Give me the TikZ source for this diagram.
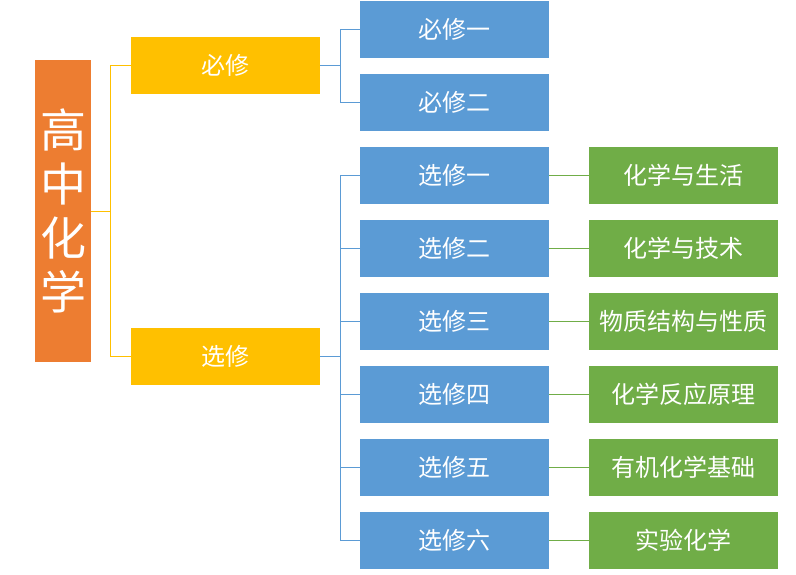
\documentclass[tikz,border=0pt]{standalone}
\usepackage{fontspec}
\setmainfont{Noto Sans CJK SC}
\usepackage{xcolor}
\usetikzlibrary{positioning}
\definecolor{rootc}{HTML}{ED7D31}
\definecolor{midc}{HTML}{FFC000}
\definecolor{subc}{HTML}{5B9BD5}
\definecolor{leafc}{HTML}{70AD47}

\begin{document}
\begin{tikzpicture}[
  x=1pt, y=-1pt,
  rootbox/.style={fill=rootc, text=white, align=center, inner sep=0pt, minimum width=56pt, minimum height=302pt, font=\fontsize{46}{54}\selectfont},
  midbox/.style={fill=midc, text=white, minimum width=189pt, minimum height=57pt, font=\fontsize{24}{28}\selectfont},
  subbox/.style={fill=subc, text=white, minimum width=189pt, minimum height=57pt, font=\fontsize{24}{28}\selectfont},
  leafbox/.style={fill=leafc, text=white, inner sep=0pt, minimum width=189pt, minimum height=57pt, font=\fontsize{24}{28}\selectfont},
  link/.style={draw=#1, line width=0.9pt}
]
  \useasboundingbox (0,0) rectangle (796,574);
  % root and second level
  \node[rootbox] (root) at (63,211) {高\\中\\化\\学};
  \node[midbox] (bx) at (225.5,65.5) {必修};
  \node[midbox] (xx) at (225.5,356.5) {选修};
  % third level
  \node[subbox] (bx1) at (454.5,29) {必修一};
  \node[subbox] (bx2) at (454.5,102) {必修二};
  \foreach \n/\t [count=\i from 0] in {1/选修一,2/选修二,3/选修三,4/选修四,5/选修五,6/选修六}
    \node[subbox] (xx\n) at (454.5,175+73*\i) {\t};
  % leaves
  \foreach \n/\t [count=\i from 0] in {1/化学与生活,2/化学与技术,3/物质结构与性质,4/化学反应原理,5/有机化学基础,6/实验化学}
    \node[leafbox] (lf\n) at (683.5,175+73*\i) {\t};

  % connectors
  \coordinate (rj) at (110,211);
  \draw[link=midc] (root.east) -- (rj);
  \draw[link=midc] (rj |- bx) -- (rj |- xx);
  \draw[link=midc] (rj |- bx) -- (bx.west);
  \draw[link=midc] (rj |- xx) -- (xx.west);

  \coordinate (bj) at (340,65.5);
  \draw[link=subc] (bx.east) -- (bj);
  \draw[link=subc] (bj |- bx1) -- (bj |- bx2);
  \foreach \n in {1,2}
    \draw[link=subc] (bj |- bx\n) -- (bx\n.west);

  \coordinate (xj) at (340,356.5);
  \draw[link=subc] (xx.east) -- (xj);
  \draw[link=subc] (xj |- xx1) -- (xj |- xx6);
  \foreach \n in {1,...,6}
    \draw[link=subc] (xj |- xx\n) -- (xx\n.west);

  \foreach \n in {1,...,6}
    \draw[link=leafc] (xx\n.east) -- (lf\n.west);
\end{tikzpicture}
\end{document}
